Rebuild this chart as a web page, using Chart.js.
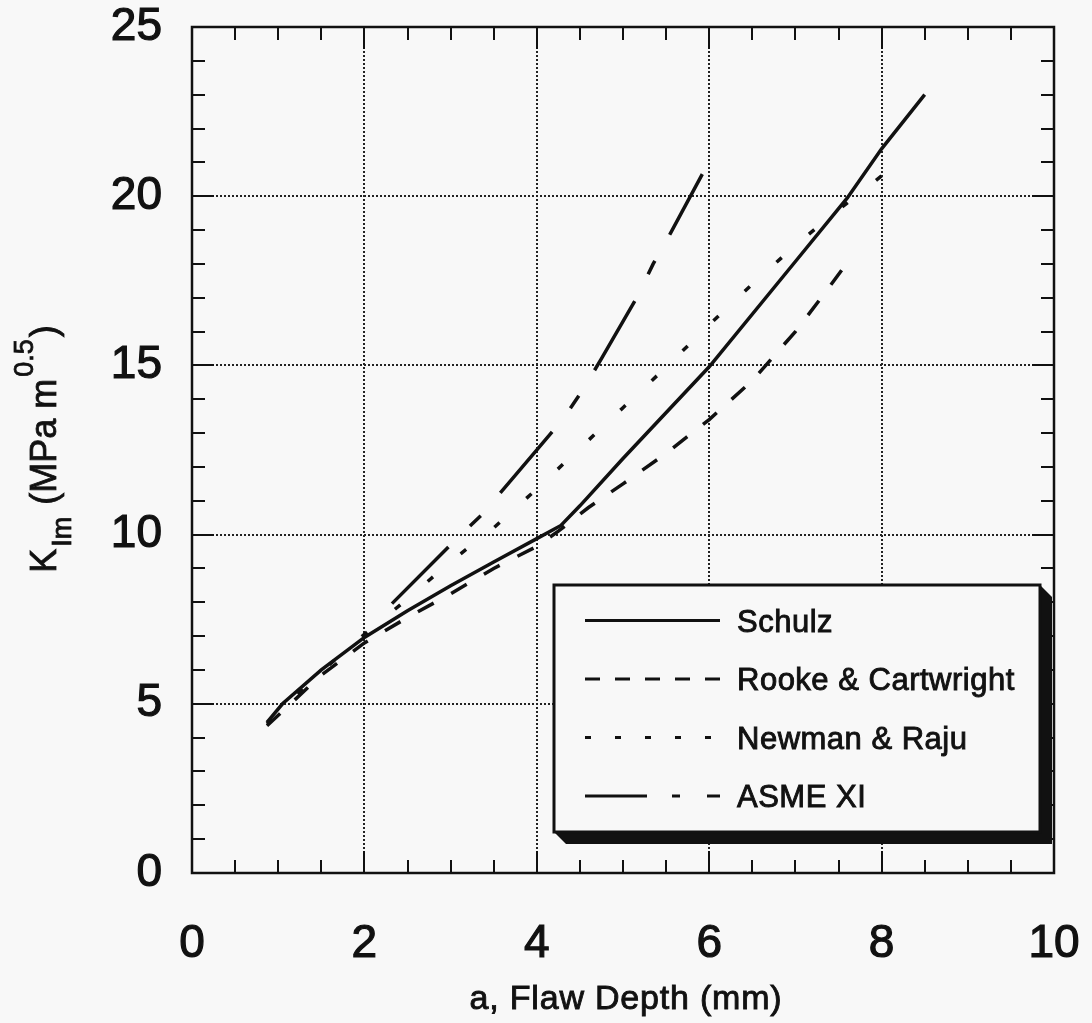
<!DOCTYPE html>
<html>
<head>
<meta charset="utf-8">
<script src="https://cdn.jsdelivr.net/npm/chart.js@4.4.1/dist/chart.umd.min.js"></script>
<style>
  html, body { margin: 0; padding: 0; background: #f8f8f8; }
  #wrap { width: 1092px; height: 1023px; }
</style>
</head>
<body>
<div id="wrap"><canvas id="chart" width="1092" height="1023"></canvas></div>
<script>
// tick values
const xTicks = [0, 2, 4, 6, 8, 10];
const yTicks = [0, 5, 10, 15, 20, 25];
const xMinorStep = 0.5;
const yMinorStep = 1;

const seriesNames = ['Schulz', 'Rooke & Cartwright', 'Newman & Raju', 'ASME XI'];

// values (a in mm, K in MPa m^0.5)
const schulzA = [0.87, 1.05, 1.5, 2.0, 2.5, 3.0, 3.5, 4.0, 4.28, 4.5, 5.0, 6.0, 7.0, 7.6, 8.0, 8.5];
const schulzK = [4.45, 5.0, 6.0, 6.96, 7.75, 8.49, 9.19, 9.88, 10.27, 10.85, 12.25, 14.96, 18.07, 19.94, 21.4, 23.0];

const rookeA = [0.87, 1.5, 2.0, 2.5, 3.0, 3.5, 4.0, 4.25, 4.6, 5.0, 5.5, 6.0, 6.5, 7.0, 7.3, 7.65];
const rookeK = [4.35, 5.85, 6.8, 7.55, 8.25, 9.0, 9.65, 10.1, 10.8, 11.5, 12.4, 13.4, 14.55, 16.0, 17.0, 18.2];

const newmanA = [0.87, 1.5, 2.0, 2.5, 3.0, 3.5, 4.0, 4.5, 5.0, 5.5, 6.0, 6.5, 7.0, 7.5, 8.0, 8.25];
const newmanK = [4.4, 5.95, 7.05, 8.1, 9.2, 10.2, 11.35, 12.55, 13.75, 14.95, 16.2, 17.4, 18.55, 19.6, 20.6, 21.1];

const asmeA = [2.32, 3.0, 3.35, 3.7, 4.3, 4.54, 4.75, 5.17, 5.35, 5.55, 5.92];
const asmeK = [7.96, 9.7, 10.56, 11.6, 13.4, 14.3, 15.2, 17.05, 18.0, 18.9, 20.65];

const ink = '#111';
const bg = '#f8f8f8';
const font = '"Liberation Sans", Arial, Helvetica, sans-serif';

const toPoints = (xs, ys) => xs.map((v, i) => ({ x: v, y: ys[i] }));

// dash patterns in the plot and in the legend sample
const plotDash = [[], [18, 20], [7, 36], [80, 30, 15, 30]];
const legendDash = [[], [15, 15], [6, 24], [62, 25, 8, 27, 13, 100]];

const datasets = [
  [schulzA, schulzK],
  [rookeA, rookeK],
  [newmanA, newmanK],
  [asmeA, asmeK],
].map(([xs, ys], i) => ({
  label: seriesNames[i],
  data: toPoints(xs, ys),
  showLine: true,
  borderColor: ink,
  borderWidth: 3.5,
  borderDash: plotDash[i],
  borderCapStyle: 'butt',
  pointRadius: 0,
  tension: 0,
  fill: false,
}));

// draw text slightly heavier, like the printed original
function heavyText(ctx, t, x, y, w) {
  ctx.lineWidth = w;
  ctx.strokeStyle = ink;
  ctx.setLineDash([]);
  ctx.strokeText(t, x, y);
  ctx.fillText(t, x, y);
}

const framePlugin = {
  id: 'frame',
  beforeDatasetsDraw(chart) {
    const { ctx, chartArea: a, scales: { x, y } } = chart;
    ctx.save();
    ctx.strokeStyle = '#222';
    ctx.lineWidth = 2;
    ctx.setLineDash([2, 2]);
    xTicks.slice(1, -1).forEach(v => {
      const px = Math.round(x.getPixelForValue(v));
      ctx.beginPath(); ctx.moveTo(px, a.top); ctx.lineTo(px, a.bottom); ctx.stroke();
    });
    yTicks.slice(1, -1).forEach(v => {
      const py = Math.round(y.getPixelForValue(v));
      ctx.beginPath(); ctx.moveTo(a.left, py); ctx.lineTo(a.right, py); ctx.stroke();
    });
    ctx.restore();
  },
  afterDatasetsDraw(chart) {
    const { ctx, chartArea: a, scales: { x, y } } = chart;
    ctx.save();

    // frame with inward ticks on all four sides
    ctx.strokeStyle = ink;
    ctx.lineWidth = 2.5;
    ctx.setLineDash([]);
    ctx.strokeRect(a.left, a.top, a.right - a.left, a.bottom - a.top);
    ctx.lineWidth = 2;
    ctx.beginPath();
    for (let v = x.min; v <= x.max + 1e-9; v += xMinorStep) {
      const px = Math.round(x.getPixelForValue(v));
      const len = xTicks.includes(v) ? 22 : 13;
      ctx.moveTo(px, a.bottom); ctx.lineTo(px, a.bottom - len);
      ctx.moveTo(px, a.top); ctx.lineTo(px, a.top + len);
    }
    for (let v = y.min; v <= y.max + 1e-9; v += yMinorStep) {
      const py = Math.round(y.getPixelForValue(v));
      const len = yTicks.includes(v) ? 22 : 13;
      ctx.moveTo(a.left, py); ctx.lineTo(a.left + len, py);
      ctx.moveTo(a.right, py); ctx.lineTo(a.right - len, py);
    }
    ctx.stroke();

    // legend box with drop shadow
    const box = { l: 554, t: 585, r: 1040, b: 832, s: 12 };
    ctx.fillStyle = ink;
    ctx.beginPath();
    ctx.moveTo(box.l, box.b);
    ctx.lineTo(box.l + box.s, box.b + box.s);
    ctx.lineTo(box.r + box.s, box.b + box.s);
    ctx.lineTo(box.r + box.s, box.t + box.s);
    ctx.lineTo(box.r, box.t);
    ctx.closePath();
    ctx.fill();
    ctx.fillStyle = bg;
    ctx.fillRect(box.l, box.t, box.r - box.l, box.b - box.t);
    ctx.lineWidth = 3;
    ctx.strokeRect(box.l, box.t, box.r - box.l, box.b - box.t);

    const rowY = [620.5, 679, 737.5, 796];
    ctx.textAlign = 'left';
    ctx.textBaseline = 'alphabetic';
    seriesNames.forEach((name, i) => {
      ctx.setLineDash(legendDash[i]);
      ctx.lineWidth = 3;
      ctx.strokeStyle = ink;
      ctx.beginPath();
      ctx.moveTo(585, rowY[i]);
      ctx.lineTo(720, rowY[i]);
      ctx.stroke();
      ctx.fillStyle = ink;
      ctx.font = '31px ' + font;
      ctx.letterSpacing = '0.5px';
      heavyText(ctx, name, 737, rowY[i] + 11, 0.9);
    });

    // x axis title
    ctx.font = '34px ' + font;
    ctx.letterSpacing = '0.8px';
    ctx.textAlign = 'center';
    heavyText(ctx, 'a, Flaw Depth (mm)', 626, 1009, 0.9);
    ctx.letterSpacing = '0px';

    // y axis title with subscript and superscript
    const parts = [
      { t: 'K', size: 36, dy: 0 },
      { t: 'Im', size: 27, dy: 15 },
      { t: ' (MPa m', size: 36, dy: 0 },
      { t: '0.5', size: 27, dy: -23 },
      { t: ')', size: 36, dy: 0 },
    ];
    ctx.textAlign = 'left';
    let total = 0;
    parts.forEach(p => { ctx.font = p.size + 'px ' + font; p.w = ctx.measureText(p.t).width + 2; total += p.w; });
    ctx.translate(56, 448);
    ctx.rotate(-Math.PI / 2);
    let cx = -total / 2;
    parts.forEach(p => {
      ctx.font = p.size + 'px ' + font;
      heavyText(ctx, p.t, cx, p.dy, 0.8);
      cx += p.w;
    });
    ctx.restore();
  }
};

new Chart(document.getElementById('chart'), {
  type: 'scatter',
  data: { datasets },
  options: {
    responsive: false,
    animation: false,
    devicePixelRatio: 1,
    layout: { padding: { top: 27, right: 38, left: 0, bottom: 0 } },
    plugins: { legend: { display: false }, tooltip: { enabled: false } },
    scales: {
      x: {
        type: 'linear',
        min: 0,
        max: 10,
        afterFit: s => { s.height = 150; s.paddingLeft = 0; s.paddingRight = 0; },
        afterBuildTicks: s => { s.ticks = xTicks.map(v => ({ value: v })); },
        ticks: {
          color: ink, padding: 48, maxRotation: 0,
          textStrokeColor: ink, textStrokeWidth: 1.2,
          font: { family: font, size: 46, lineHeight: 1 },
        },
        grid: { display: false, drawTicks: false, tickLength: 0 },
        border: { display: false },
      },
      y: {
        type: 'linear',
        min: 0,
        max: 25,
        afterFit: s => { s.width = 192; s.paddingTop = 0; s.paddingBottom = 0; },
        afterBuildTicks: s => { s.ticks = yTicks.map(v => ({ value: v })); },
        ticks: {
          color: ink, padding: 30,
          textStrokeColor: ink, textStrokeWidth: 1.2,
          font: { family: font, size: 46, lineHeight: 1 },
        },
        grid: { display: false, drawTicks: false, tickLength: 0 },
        border: { display: false },
      },
    },
  },
  plugins: [framePlugin],
});
</script>
</body>
</html>
